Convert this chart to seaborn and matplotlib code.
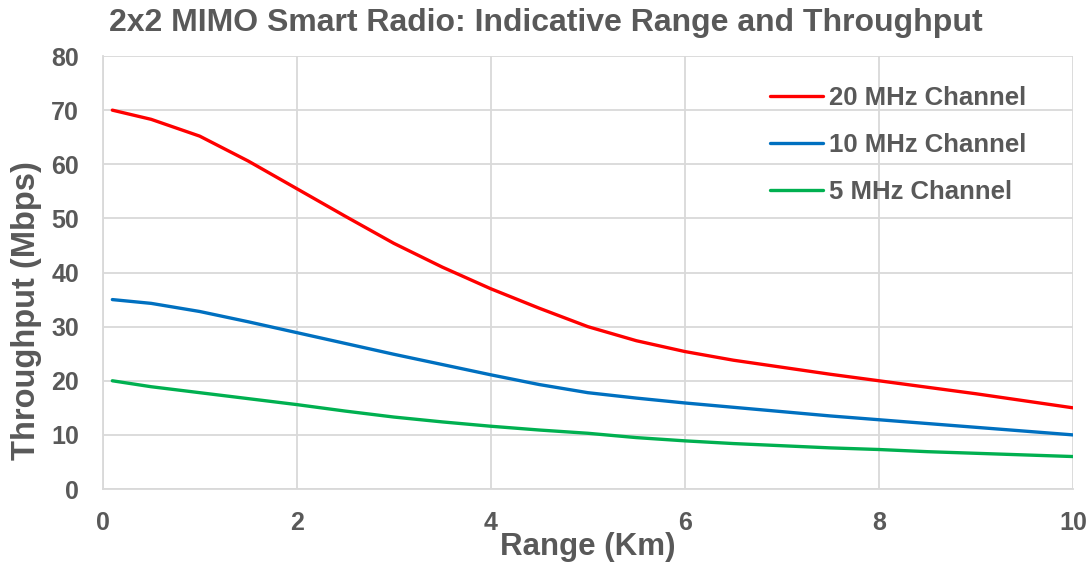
# 2x2 MIMO range vs throughput chart

import pandas as pd
import seaborn as sns
import matplotlib.pyplot as plt

# readings taken off the reference chart
range_km = [0.1, 0.5, 1, 1.5, 2, 2.5, 3, 3.5, 4, 4.5, 5,
            5.5, 6, 6.5, 7, 7.5, 8, 8.5, 9, 9.5, 10]
tp_20mhz = [70, 68.3, 65.2, 60.6, 55.5, 50.4, 45.4, 41, 37, 33.4, 30,
            27.4, 25.4, 23.8, 22.5, 21.2, 20, 18.8, 17.6, 16.3, 15]
tp_10mhz = [35, 34.3, 32.8, 30.9, 28.9, 26.9, 24.9, 23, 21.1, 19.3, 17.8,
            16.8, 15.9, 15.1, 14.3, 13.5, 12.8, 12.1, 11.4, 10.7, 10]
tp_5mhz = [20, 18.9, 17.8, 16.7, 15.6, 14.4, 13.3, 12.4, 11.6, 10.9, 10.3,
           9.5, 8.9, 8.4, 8.0, 7.6, 7.3, 6.9, 6.6, 6.3, 6]
series_names = ['20 MHz Channel', '10 MHz Channel', '5 MHz Channel']
colors = ['#FF0000', '#0070C0', '#00B050']

frames = []
for name, vals in zip(series_names, [tp_20mhz, tp_10mhz, tp_5mhz]):
    frames.append(pd.DataFrame({'Range': range_km, 'Throughput': vals, 'Series': name}))
data = pd.concat(frames, ignore_index=True)

sns.set_style('white')
plt.rcParams['font.family'] = ['Liberation Sans', 'DejaVu Sans']
grey = '#595959'

fig = plt.figure(figsize=(10.92, 5.63), dpi=100)
ax = fig.add_axes([0.094, 0.1314, 0.8886, 0.7691])

sns.lineplot(data=data, x='Range', y='Throughput', hue='Series',
             palette=colors, hue_order=series_names, linewidth=2.4, ax=ax)

ax.set_xlim(0, 10)
ax.set_ylim(0, 80)
ax.set_xticks(range(0, 11, 2))
ax.set_yticks(range(0, 81, 10))
ax.grid(True, color='#d9d9d9', linewidth=1.3)
for side in ['top', 'right']:
    ax.spines[side].set_visible(False)
for side in ['left', 'bottom']:
    ax.spines[side].set_color('#d9d9d9')
    ax.spines[side].set_linewidth(1.3)
ax.tick_params(axis='y', length=0, labelsize=18, labelcolor=grey, pad=17)
ax.tick_params(axis='x', length=0, labelsize=18, labelcolor=grey, pad=16)
for lbl in ax.get_xticklabels() + ax.get_yticklabels():
    lbl.set_fontweight('bold')

ax.set_xlabel('Range (Km)', fontsize=22.5, fontweight='bold', color=grey, labelpad=-2.5)
ax.set_ylabel('Throughput (Mbps)', fontsize=23.5, fontweight='bold', color=grey)
ax.yaxis.set_label_coords(-0.0626, 0.411)

fig.suptitle('2x2 MIMO Smart Radio: Indicative Range and Throughput',
             x=0.5, y=0.985, fontsize=23, fontweight='bold', color=grey)

leg = ax.legend(loc='upper left', bbox_to_anchor=(0.684, 0.888),
                bbox_transform=fig.transFigure, frameon=False,
                fontsize=18.5, handlelength=2.06, handletextpad=0.25, labelspacing=0.9)
for txt in leg.get_texts():
    txt.set_color(grey)
    txt.set_fontweight('bold')

fig.savefig('out.png', dpi=100)
